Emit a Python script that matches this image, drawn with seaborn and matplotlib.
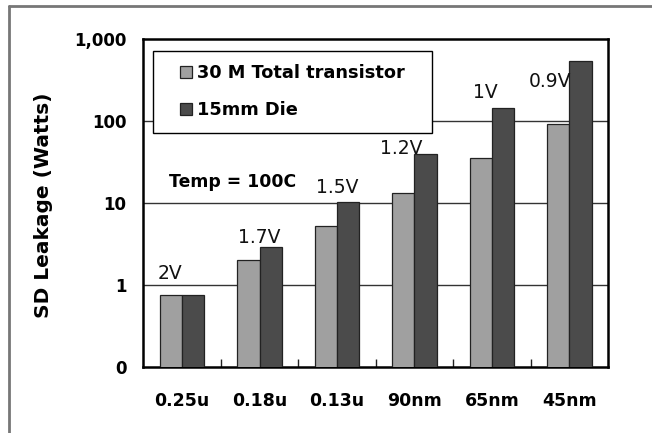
import matplotlib
matplotlib.use("Agg")
import matplotlib.pyplot as plt
import matplotlib.ticker as mticker
from matplotlib.lines import Line2D
from matplotlib.patches import Rectangle
import seaborn as sns
import pandas as pd

# Process nodes and leakage estimates (Watts, log scale)
nodes = ["0.25u", "0.18u", "0.13u", "90nm", "65nm", "45nm"]
transistor_30m = [0.76, 2.0, 5.2, 13.1, 35, 93]
die_15mm = [0.76, 2.9, 10.4, 40, 145, 545]
series_names = ["30 M Total transistor", "15mm Die"]
supply_labels = ["2V", "1.7V", "1.5V", "1.2V", "1V", "0.9V"]
y_ticks = [0.1, 1, 10, 100, 1000]
y_tick_labels = ["0", "1", "10", "100", "1,000"]

df = pd.DataFrame({
    "node": nodes * 2,
    "watts": transistor_30m + die_15mm,
    "series": [series_names[0]] * len(nodes) + [series_names[1]] * len(nodes),
})

sns.set_theme(style="white")
plt.rcParams["font.family"] = ["DejaVu Sans"]
plt.rcParams["text.color"] = "black"
plt.rcParams["axes.labelcolor"] = "black"
plt.rcParams["xtick.color"] = "black"
plt.rcParams["ytick.color"] = "black"

fig = plt.figure(figsize=(6.52, 4.33), dpi=100)
ax = fig.add_axes([0.2198, 0.1524, 0.713, 0.7576])
ax.set_yscale("log")

palette = {series_names[0]: "#a0a0a0", series_names[1]: "#4b4b4b"}
sns.barplot(data=df, x="node", y="watts", hue="series", order=nodes,
            hue_order=series_names, palette=palette, width=0.57, gap=0,
            saturation=1, edgecolor="#222222", linewidth=0.9, ax=ax, zorder=3)

ax.set_ylim(0.1, 1000)
ax.set_xlim(-0.5, len(nodes) - 0.5)
ax.yaxis.set_major_locator(mticker.FixedLocator(y_ticks))
ax.yaxis.set_major_formatter(mticker.FixedFormatter(y_tick_labels))
ax.yaxis.set_minor_locator(mticker.NullLocator())
ax.tick_params(axis="y", length=0, pad=12, labelsize=12, labelcolor="black")
for lbl in ax.get_yticklabels():
    lbl.set_fontweight("bold")

# group separators as short inward ticks along the bottom
ax.xaxis.set_minor_locator(mticker.FixedLocator([i + 0.5 for i in range(len(nodes) - 1)]))
ax.tick_params(axis="x", which="minor", direction="in", length=6, width=1, color="#222222", bottom=True)
ax.tick_params(axis="x", which="major", length=0, pad=18, labelsize=12.5, labelcolor="black")
for lbl in ax.get_xticklabels():
    lbl.set_fontweight("bold")

# horizontal reference lines
for yv in [1, 10, 100]:
    ax.axhline(yv, color="#333333", linewidth=1.0, zorder=1)

for side in ["left", "right", "top", "bottom"]:
    ax.spines[side].set_visible(True)
    ax.spines[side].set_color("black")
    ax.spines[side].set_linewidth(1.8)

ax.set_xlabel("")
ax.set_ylabel("SD Leakage (Watts)", fontsize=14.5, fontweight="bold", color="black")
ax.yaxis.set_label_coords(-0.194, 0.492)

# supply-voltage annotations
label_x = [-0.15, 0.0, 0.0, -0.17, -0.09, -0.25]
label_y = [1.38, 3.77, 15.3, 46.3, 222, 303]
for i, (txt, dx, yv) in enumerate(zip(supply_labels, label_x, label_y)):
    ax.text(i + dx, yv, txt, ha="center", va="center", fontsize=13.5,
            fontweight="normal", color="#111111", zorder=5)

ax.text(0.191, 0.565, "Temp = 100C", transform=ax.transAxes, ha="center", va="center",
        fontsize=12.4, fontweight="bold", color="black", zorder=5)

# legend box with entries inside
ax.add_patch(Rectangle((0.0215, 0.7125), 0.6, 0.2515, transform=ax.transAxes,
                       facecolor="white", edgecolor="black", linewidth=1.0, zorder=6))
leg = ax.legend(loc="center left", bbox_to_anchor=(0.079, 0.839), frameon=False,
                fontsize=12.8, handlelength=0.7, handleheight=0.7, handletextpad=0.28,
                borderpad=0, labelspacing=1.05, borderaxespad=0)
leg.set_zorder(7)
for t in leg.get_texts():
    t.set_fontweight("bold")
    t.set_color("black")

# outer frame along the top and left of the figure
fig.add_artist(Line2D([9 / 652, 9 / 652], [0, 1 - 6 / 433], transform=fig.transFigure,
                      color="#777777", linewidth=2))
fig.add_artist(Line2D([9 / 652, 1], [1 - 6 / 433, 1 - 6 / 433], transform=fig.transFigure,
                      color="#777777", linewidth=2))

fig.savefig("out.png", dpi=100)
